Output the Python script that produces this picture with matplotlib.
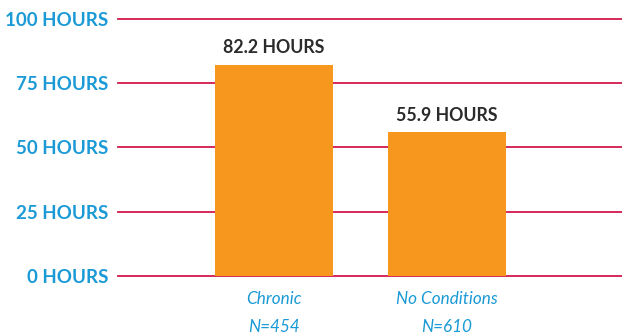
import matplotlib
matplotlib.use("Agg")
import matplotlib.pyplot as plt

categories = ["Chronic", "No Conditions"]
sample_sizes = ["N=454", "N=610"]
hours = [82.2, 55.9]
y_ticks = [0, 25, 50, 75, 100]
y_tick_labels = ["0 HOURS", "25 HOURS", "50 HOURS", "75 HOURS", "100 HOURS"]

BAR_COLOR = "#f7971e"
GRID_COLOR = "#d11a4c"
BLUE = "#1b9ad6"
DARK = "#2b2b2b"

fig = plt.figure(figsize=(6.22, 3.35), dpi=100)
ax = fig.add_axes([118 / 622, (335 - 275.7) / 335, 504 / 622, (275.7 - 19) / 335])

x = list(range(len(categories)))
for yv in y_ticks:
    ax.axhline(yv, color=GRID_COLOR, lw=1.3, zorder=1, clip_on=False)

bars = ax.bar(x, hours, width=0.682, color=BAR_COLOR, zorder=2)
for xi, h in zip(x, hours):
    ax.annotate(f"{h:.1f} HOURS", (xi, h), xytext=(0, 6), textcoords="offset points",
                ha="center", va="bottom", fontsize=12.8, fontweight="bold",
                family="Lato", color=DARK)

ax.set_xlim(-0.902, 2.012)
ax.set_ylim(0, 100)
ax.set_yticks(y_ticks)
ax.set_yticklabels(y_tick_labels, family="Lato", fontweight="bold", fontsize=13.5, color=BLUE)
ax.tick_params(axis="y", length=0, pad=7)
ax.set_xticks([])
for s in ax.spines.values():
    s.set_visible(False)

for xi, cat, n in zip(x, categories, sample_sizes):
    ax.text(xi, -9, cat, ha="center", va="center", transform=ax.transData,
            family="Lato", style="italic", fontsize=12.3, color=BLUE)
    ax.text(xi, -20, n, ha="center", va="center", transform=ax.transData,
            family="Lato", style="italic", fontsize=12.3, color=BLUE)

fig.savefig("out.png", dpi=100)
